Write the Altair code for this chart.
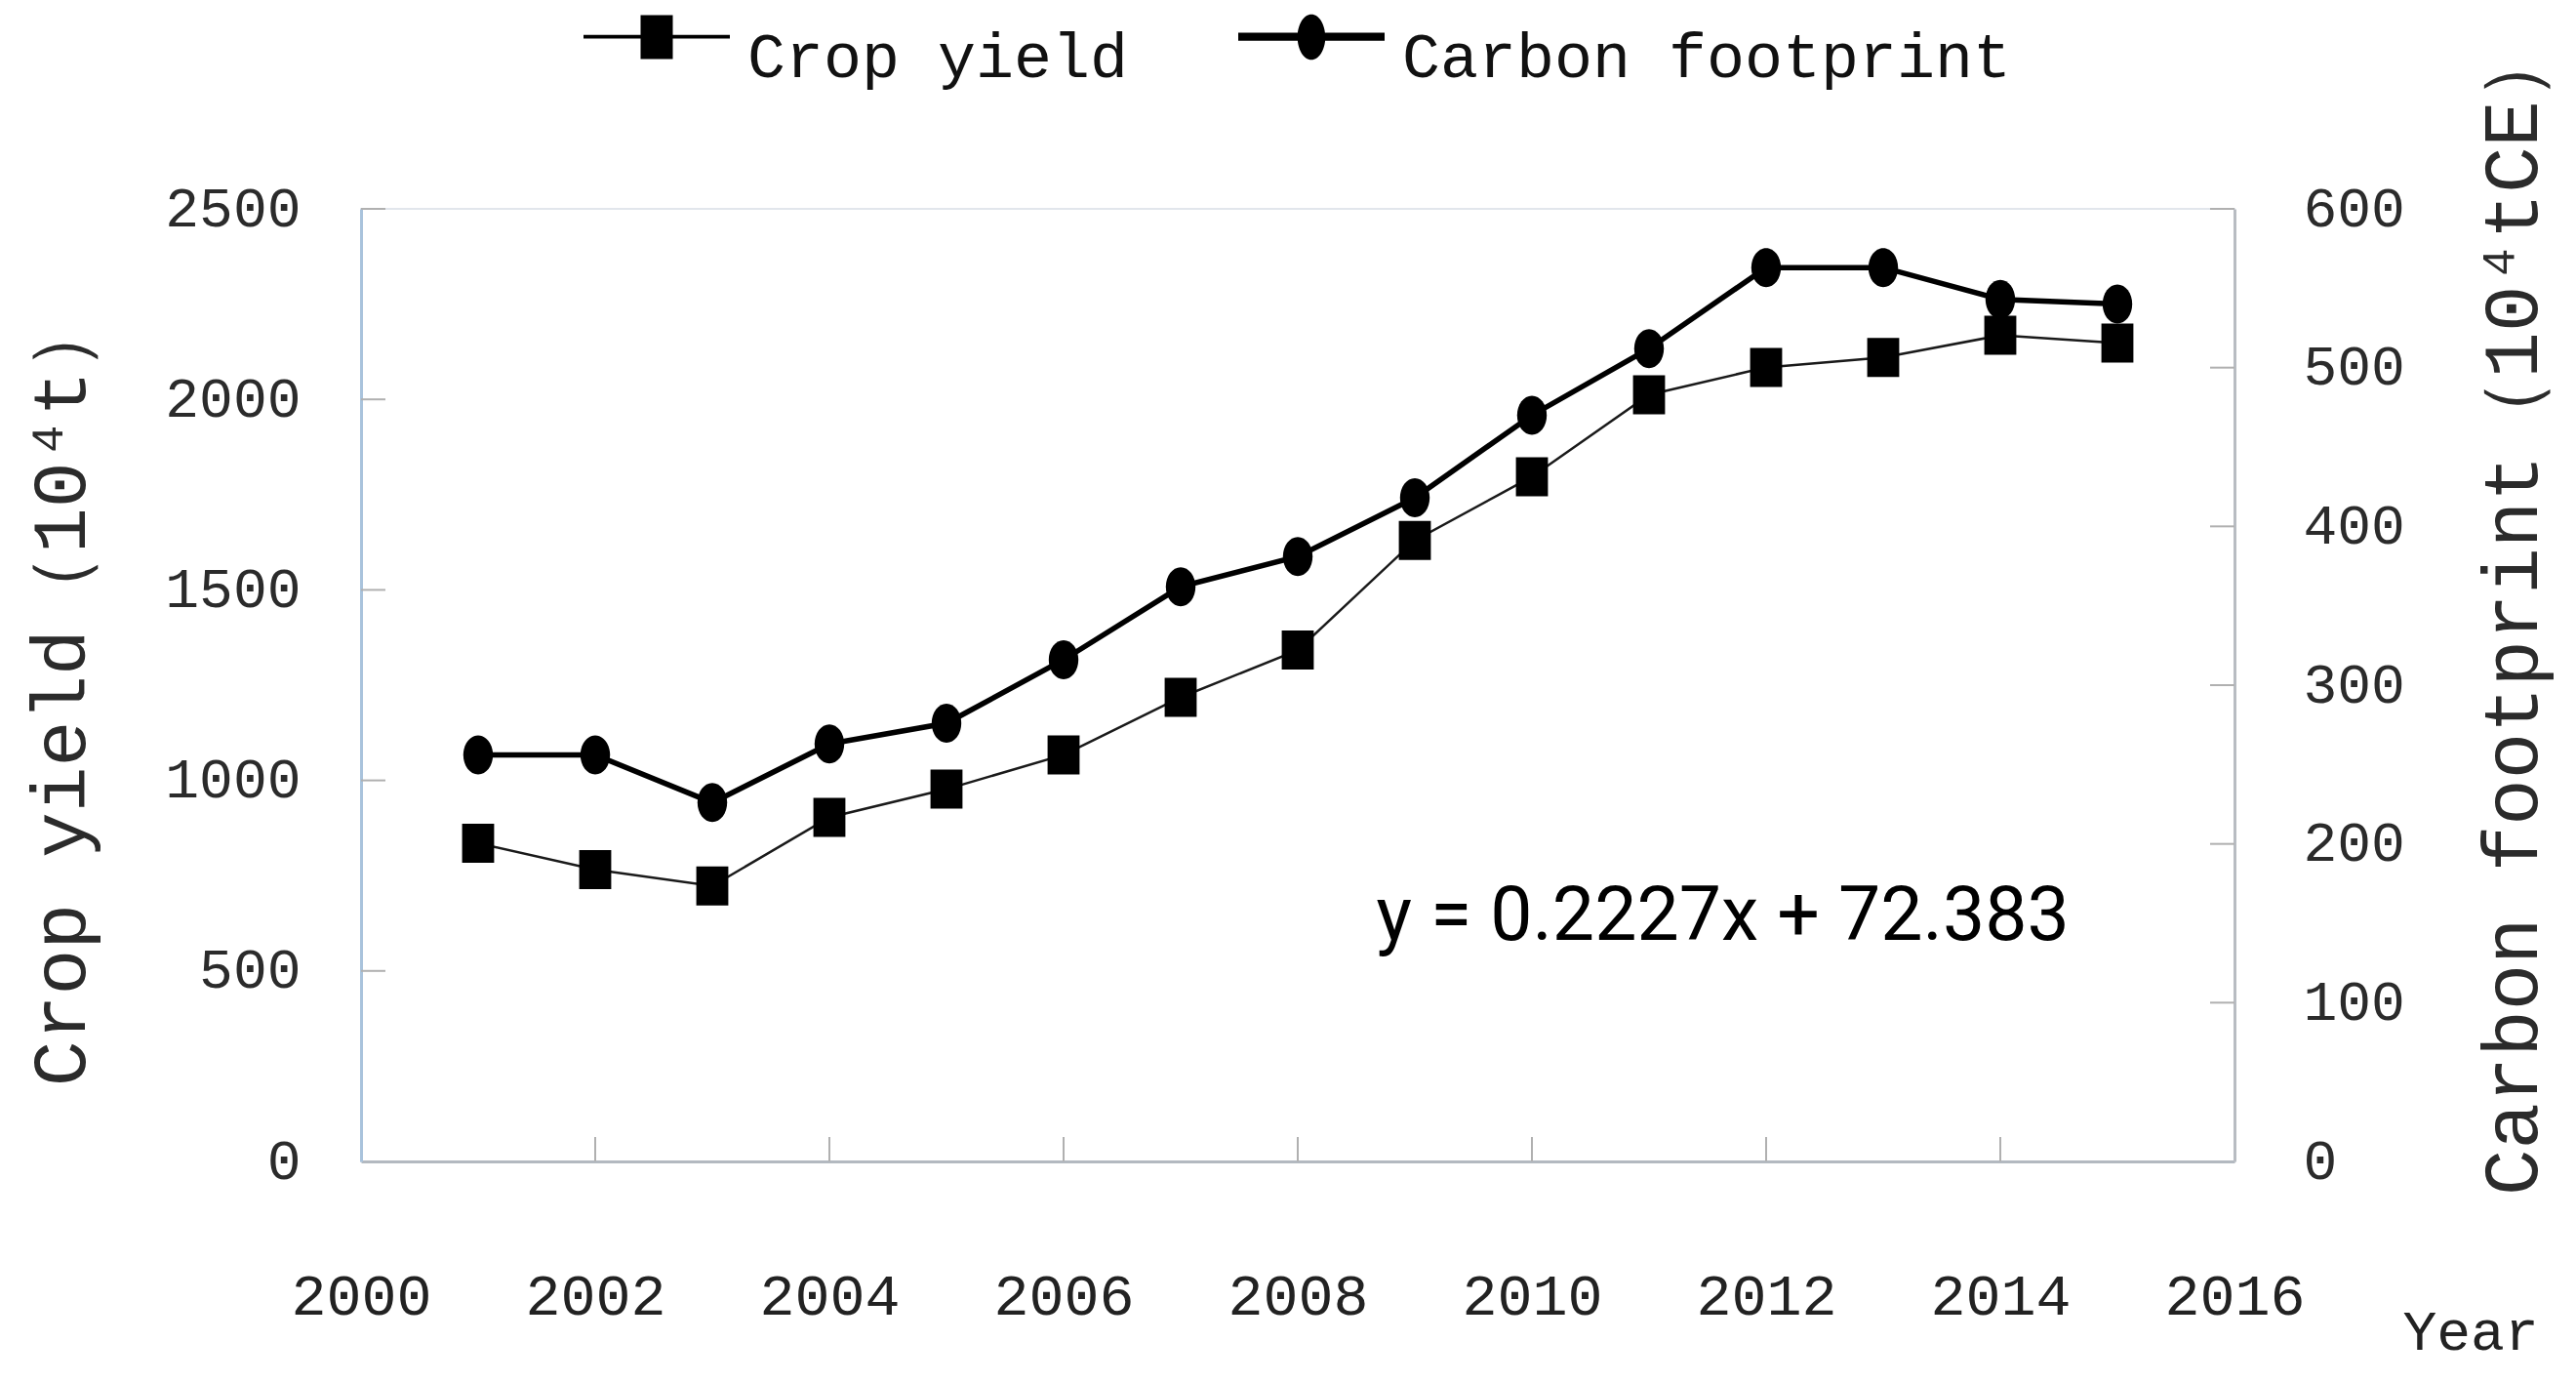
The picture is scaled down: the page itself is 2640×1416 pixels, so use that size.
import altair as alt
import pandas as pd

# ---------------- data ----------------
years = [2001, 2002, 2003, 2004, 2005, 2006, 2007, 2008, 2009, 2010, 2011, 2012, 2013, 2014, 2015]
crop_yield = [835, 766, 723, 903, 977, 1067, 1218, 1342, 1630, 1797, 2012, 2084, 2110, 2168, 2148]
carbon_footprint = [256, 256, 226, 263, 276, 316, 362, 381, 418, 470, 512, 563, 563, 543, 540]
series_names = ["Crop yield", "Carbon footprint"]

x_tick_values = [2000, 2002, 2004, 2006, 2008, 2010, 2012, 2014, 2016]
x_inner_ticks = [2002, 2004, 2006, 2008, 2010, 2012, 2014]
left_tick_values = [0, 500, 1000, 1500, 2000, 2500]
left_inner_ticks = [500, 1000, 1500, 2000, 2500]
right_tick_values = [0, 100, 200, 300, 400, 500, 600]
right_inner_ticks = [100, 200, 300, 400, 500, 600]

left_title = "Crop yield（10⁴t）"
right_title = "Carbon footprint（10⁴tCE）"
x_title = "Year"
equation_text = ["y = 0.2227x + 72.383"]
equation_year = [2008.67]
equation_value = [581]

# ---------------- styles ----------------
W, H = 1920, 976
LAB_FONT = "Liberation Mono"
RECT = "M-0.82,-1H0.82V1H-0.82Z"
ELLIPSE = "M0.76,0A0.76,1 0 1,1 -0.76,0A0.76,1 0 1,1 0.76,0Z"
LEG_CROP = "M-1,-0.31H1V-0.26H-1Z M-0.22,-0.58H0.22V0.02H-0.22Z"
LEG_CARBON = "M-1,-0.34H1V-0.23H-1Z M0.19,-0.28A0.19,0.31 0 1,1 -0.19,-0.28A0.19,0.31 0 1,1 0.19,-0.28Z"

crop_df = pd.DataFrame({"year": years, "value": crop_yield, "series": series_names[0]})
carbon_df = pd.DataFrame({"year": years, "value": carbon_footprint, "series": series_names[1]})
left_ticks_df = pd.DataFrame({"year": [2000] * len(left_inner_ticks), "value": left_inner_ticks})
x_ticks_df = pd.DataFrame({"year": x_inner_ticks, "value": [0] * len(x_inner_ticks)})
right_ticks_df = pd.DataFrame({"year": [2016] * len(right_inner_ticks), "value": right_inner_ticks})
eq_df = pd.DataFrame({"year": equation_year, "value": equation_value, "text": equation_text})

x_enc = alt.X(
    "year:Q",
    scale=alt.Scale(domain=[2000, 2016], nice=False, zero=False),
    axis=alt.Axis(
        values=x_tick_values, format="d", ticks=False, grid=False,
        domainColor="#b3b9c0", domainWidth=3,
        labelFont=LAB_FONT, labelFontSize=60, labelColor="#222222",
        labelBaseline="middle", labelPadding=138, labelFlush=False,
        title=x_title, titleFont=LAB_FONT, titleFontSize=58, titleFontWeight="normal",
        titleColor="#222222", titleX=2092, titleY=175, titleAlign="left",
        titleBaseline="middle",
    ),
)

y_left = alt.Y(
    "value:Q",
    scale=alt.Scale(domain=[0, 2500], nice=False),
    axis=alt.Axis(
        orient="left", values=left_tick_values, format="d", ticks=False, grid=False,
        domainColor="#a9c3dc", domainWidth=3,
        labelFont=LAB_FONT, labelFontSize=58, labelColor="#2b2b2b", labelPadding=62,
        title=left_title, titleFont=LAB_FONT, titleFontSize=78, titleFontWeight="normal",
        titleColor="#2b2b2b", titleX=-307, titleY=493, titleBaseline="middle",
        titleAlign="center",
    ),
)

y_right = alt.Y(
    "value:Q",
    scale=alt.Scale(domain=[0, 600], nice=False),
    axis=alt.Axis(
        orient="right", values=right_tick_values, format="d", ticks=False, grid=False,
        domainColor="#b8bcc2", domainWidth=3,
        labelFont=LAB_FONT, labelFontSize=58, labelColor="#2b2b2b", labelPadding=70,
        title=right_title, titleFont=LAB_FONT, titleFontSize=79, titleFontWeight="normal",
        titleColor="#2b2b2b", titleAngle=270, titleX=285, titleY=410,
        titleBaseline="middle", titleAlign="center",
    ),
)

legend = alt.Legend(
    orient="none", legendX=228, legendY=-230, direction="horizontal", title=None,
    labelFont=LAB_FONT, labelFontSize=65, labelColor="#111111", labelLimit=0,
    labelOffset=18, columnPadding=112, symbolSize=22500, symbolStrokeWidth=0,
    symbolOpacity=1, symbolFillColor="#000000",
    symbolType=alt.ExprRef("datum.value === 'Crop yield' ? '%s' : '%s'" % (LEG_CROP, LEG_CARBON)),
)

color_enc = alt.Color(
    "series:N",
    scale=alt.Scale(domain=series_names, range=["#000000", "#000000"]),
    legend=legend,
)

crop_line = alt.Chart(crop_df).mark_line(color="#1a1a1a", strokeWidth=2.5).encode(x=x_enc, y=y_left)
crop_pts = alt.Chart(crop_df).mark_point(filled=True, size=1600, shape=RECT, opacity=1).encode(
    x=x_enc, y=y_left, color=color_enc)
left_ticks = alt.Chart(left_ticks_df).mark_rule(color="#b0b0b0", strokeWidth=2, x2Offset=25).encode(
    x=x_enc, x2=alt.X2("year"), y=y_left)
bottom_ticks = alt.Chart(x_ticks_df).mark_rule(color="#b0b0b0", strokeWidth=2, y2Offset=-25).encode(
    x=x_enc, y=y_left, y2=alt.Y2("value"))
eq = alt.Chart(eq_df).mark_text(
    font="Roboto", fontSize=77, color="#000000",
    align="left", baseline="alphabetic").encode(x=x_enc, y=y_left, text="text:N")

carbon_line = alt.Chart(carbon_df).mark_line(color="#000000", strokeWidth=5.5).encode(x=x_enc, y=y_right)
carbon_pts = alt.Chart(carbon_df).mark_point(filled=True, size=1600, shape=ELLIPSE, opacity=1).encode(
    x=x_enc, y=y_right, color=color_enc)
right_ticks = alt.Chart(right_ticks_df).mark_rule(color="#b0b0b0", strokeWidth=2, x2Offset=-25).encode(
    x=x_enc, x2=alt.X2("year"), y=y_right)

left_group = alt.layer(left_ticks, bottom_ticks, crop_line, crop_pts, eq)
right_group = alt.layer(right_ticks, carbon_line, carbon_pts)

chart = (
    alt.layer(left_group, right_group)
    .resolve_scale(y="independent")
    .properties(
        width=W, height=H,
        padding={"left": 362, "top": 206, "right": 342, "bottom": 220},
        autosize=alt.AutoSizeParams(type="none"),
        background="white",
    )
    .configure_view(stroke="#e2e6ec", strokeWidth=2)
)

chart.save("out.html", embed_options={"renderer": "svg", "actions": False})
